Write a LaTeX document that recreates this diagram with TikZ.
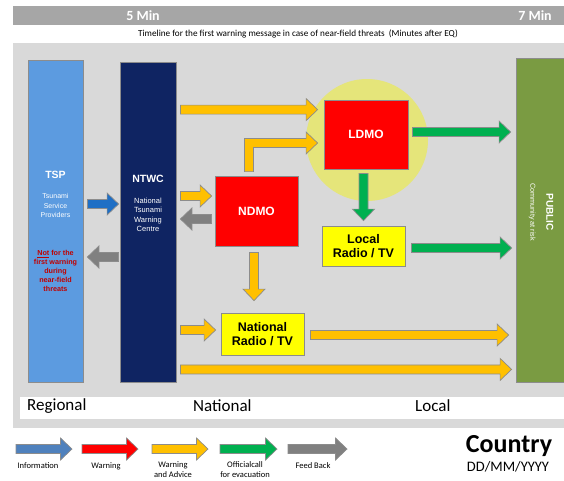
\documentclass[tikz,border=0pt]{standalone}
\usepackage{fontspec}
\setmainfont{Carlito}
\newfontfamily\arialfont{Liberation Sans}
\usetikzlibrary{calc}

\definecolor{panelgray}{HTML}{D9D9D9}
\definecolor{bargray}{HTML}{A6A6A6}
\definecolor{tspblue}{HTML}{5C9BE0}
\definecolor{ntwcnavy}{HTML}{0F2462}
\definecolor{boxred}{HTML}{FF0000}
\definecolor{boxyellow}{HTML}{FFFF00}
\definecolor{publicgreen}{HTML}{7A9B42}
\definecolor{zonecircle}{HTML}{E5E57A}
\definecolor{warnorange}{HTML}{FFC000}
\definecolor{evacgreen}{HTML}{00B050}
\definecolor{feedgray}{HTML}{808080}
\definecolor{infoblue}{HTML}{1F6FC5}
\definecolor{legendblue}{HTML}{4F81BD}
\definecolor{arrowedge}{HTML}{8C8C8C}
\definecolor{boxedge}{HTML}{8C8C8C}
\definecolor{notred}{HTML}{C00000}

% block arrow dimensions
\def\ashaft{4.5pt}
\def\ahead{11pt}
\def\alen{11.5pt}

\tikzset{
  barrow/.style={draw=arrowedge, line width=0.7pt, fill=#1, line join=miter,
    to path={
      (\tikztostart) coordinate (ts)
      (\tikztotarget) coordinate (tt)
      ($(tt)!\alen!(ts)$) coordinate (hb)
      ($(ts)!\ashaft!90:(tt)$) -- ($(hb)!\ashaft!90:(tt)$) -- ($(hb)!\ahead!90:(tt)$)
      -- (tt) -- ($(hb)!\ahead!-90:(tt)$) -- ($(hb)!\ashaft!-90:(tt)$)
      -- ($(ts)!\ashaft!-90:(tt)$) -- cycle
    }},
  box/.style={draw=boxedge, line width=0.8pt, inner sep=0pt, align=center},
  boxlabel/.style={font=\arialfont\bfseries\fontsize{12}{14}\selectfont, align=center},
  small/.style={font=\arialfont\fontsize{7}{9.5}\selectfont, text=white, align=center, inner sep=0pt},
  title/.style={font=\arialfont\bfseries\fontsize{10.5}{12}\selectfont, text=white, inner sep=0pt},
  zone/.style={font=\fontsize{17}{20}\selectfont, anchor=west, inner sep=0pt},
  legend/.style={font=\fontsize{8.5}{10}\selectfont, align=center, inner sep=0pt},
}

\begin{document}
\begin{tikzpicture}[x=1pt,y=-1pt]
\useasboundingbox (0,0) rectangle (564,480);
\fill[white] (0,0) rectangle (564,480);

% timeline bar
\fill[bargray] (13,6) rectangle (564,25);
\node[font=\bfseries\fontsize{14}{16}\selectfont, text=white] (min5) at (143,16) {5 Min};
\node[font=\bfseries\fontsize{14}{16}\selectfont, text=white] (min7) at (535,16) {7 Min};
\node[font=\fontsize{9.2}{10}\selectfont] (timeline) at (298,34)
  {Timeline for the first warning message in case of near-field threats\ \ (Minutes after EQ)};

% main panel and zone strip
\fill[panelgray] (13,43) rectangle (564,428);
\fill[white] (20,397) rectangle (564,419);
\node[zone] (zreg) at (27,406) {Regional};
\node[zone] (znat) at (193,406) {National};
\node[zone] (zloc) at (415,406) {Local};

% local zone around the LDMO
\fill[zonecircle] (367,140) circle (61pt);

% organisations
\node[box, fill=tspblue, minimum width=55pt, minimum height=322pt] (tsp) at (55.5,221) {};
\node[box, fill=ntwcnavy, minimum width=56pt, minimum height=320pt] (ntwc) at (148,222) {};
\node[box, fill=boxred, minimum width=84pt, minimum height=69pt] (ldmo) at (366,134.5) {};
\node[box, fill=boxred, minimum width=83pt, minimum height=70pt] (ndmo) at (256.5,211) {};
\node[box, fill=boxyellow, minimum width=83pt, minimum height=40pt] (local) at (363.5,246) {};
\node[box, fill=boxyellow, minimum width=83pt, minimum height=42pt] (national) at (262.5,334) {};
\node[box, fill=publicgreen, minimum width=50pt, minimum height=324pt] (public) at (541,220) {};

% labels inside the organisations
\node[title] (tsptitle) at (55.5,175) {TSP};
\node[small] (tspsub) at (55.5,205.5) {Tsunami\\Service\\Providers};
\node[small, font=\arialfont\bfseries\fontsize{7.2}{9}\selectfont, text=notred] (tspnote) at (55.5,271)
  {\underline{Not} for the\\first warning\\during\\near-field\\threats};
\node[title] (ntwctitle) at (148,179) {NTWC};
\node[small, font=\arialfont\fontsize{7.5}{9.5}\selectfont] (ntwcsub) at (148,215) {National\\Tsunami\\Warning\\Centre};
\node[boxlabel, text=white] (ldmolabel) at (ldmo) {LDMO};
\node[boxlabel, text=white] (ndmolabel) at (ndmo) {NDMO};
\node[boxlabel, font=\arialfont\bfseries\fontsize{12.5}{14}\selectfont] (locallabel) at (local) {Local\\Radio / TV};
\node[boxlabel, font=\arialfont\bfseries\fontsize{12.5}{14}\selectfont] (natlabel) at (national) {National\\Radio / TV};
\node[rotate=-90, align=center, text=white, inner sep=0pt,
      font=\arialfont\fontsize{7.2}{16}\selectfont] (publiclabel) at (541,212)
  {{\bfseries\fontsize{10}{12}\selectfont PUBLIC}\\Community at risk};

% information and feedback between TSP and NTWC
\path[barrow=infoblue] ($(tsp.east)+(4,-17)$) to ($(ntwc.west |- tsp.east)+(-1,-17)$);
\path[barrow=feedgray] ($(ntwc.west |- tsp.east)+(-1,36)$) to ($(tsp.east)+(4,36)$);

% NTWC outputs
\path[barrow=warnorange] ($(ntwc.east |- ldmo.north)+(4,10)$) to ($(ldmo.north west)+(-6,10)$);
\path[barrow=warnorange] ($(ntwc.east |- ndmo.west)+(4,-15)$) to ($(ndmo.west)+(-3,-15)$);
\path[barrow=feedgray] ($(ndmo.west)+(-3,8)$) to ($(ntwc.east |- ndmo.west)+(4,8)$);
\path[barrow=warnorange] ($(ntwc.east |- national.west)+(4,-4)$) to ($(national.west)+(-5,-4)$);
\path[barrow=warnorange] ($(ntwc.south east)+(4,-13)$) to ($(public.south west)+(-4,-13)$);

% NDMO to LDMO (elbow)
\path[draw=arrowedge, line width=0.7pt, fill=warnorange, line join=miter]
  let \p1=($(ndmo.north)+(-7.5,-4)$), \p2=($(ldmo.west)+(-6,8.5)$) in
  (\x1-\ashaft,\y1) -- (\x1-\ashaft,\y2+\ashaft) -- (\x2-\alen,\y2+\ashaft)
  -- (\x2-\alen,\y2+\ahead) -- (\p2) -- (\x2-\alen,\y2-\ahead)
  -- (\x2-\alen,\y2-\ashaft) -- (\x1+\ashaft,\y2-\ashaft) -- (\x1+\ashaft,\y1) -- cycle;

% NDMO to national media
\path[barrow=warnorange] ($(ndmo.south)+(-2.5,6)$) to ($(national.north -| ndmo.south)+(-2.5,-12)$);
\path[barrow=warnorange] ($(national.east)+(6,1)$) to ($(public.west |- national.east)+(-7,1)$);

% LDMO outputs
\path[barrow=evacgreen] ($(ldmo.east)+(4,-2.5)$) to ($(public.west |- ldmo.east)+(-5,-2.5)$);
\path[barrow=evacgreen] ($(ldmo.south -| local.north)+(0,4)$) to ($(local.north)+(0,-5)$);
\path[barrow=evacgreen] ($(local.east)+(6,2)$) to ($(public.west |- local.east)+(-4,2)$);

% legend
\coordinate (lg1a) at (16,449);  \coordinate (lg1b) at (72,449);
\coordinate (lg2a) at (82,449);  \coordinate (lg2b) at (138,449);
\coordinate (lg3a) at (152,449); \coordinate (lg3b) at (208,449);
\coordinate (lg4a) at (220,449); \coordinate (lg4b) at (277,449);
\coordinate (lg5a) at (288,449); \coordinate (lg5b) at (347,449);
\path[barrow=legendblue] (lg1a) to (lg1b);
\path[barrow=boxred] (lg2a) to (lg2b);
\path[barrow=warnorange] (lg3a) to (lg3b);
\path[barrow=evacgreen] (lg4a) to (lg4b);
\path[barrow=feedgray] (lg5a) to (lg5b);
\node[legend] (lgt1) at (38,466) {Information};
\node[legend] (lgt2) at (106,466) {Warning};
\node[legend] (lgt3) at (173,470) {Warning\\and Advice};
\node[legend] (lgt4) at (245,470) {Officialcall\\for evacuation};
\node[legend] (lgt5) at (313,466) {Feed Back};

% country and date
\node[font=\bfseries\fontsize{26}{30}\selectfont, inner sep=0pt] (country) at (509,446) {Country};
\node[font=\fontsize{14.5}{16}\selectfont, inner sep=0pt] (date) at (508,467) {DD/MM/YYYY};
\end{tikzpicture}
\end{document}
